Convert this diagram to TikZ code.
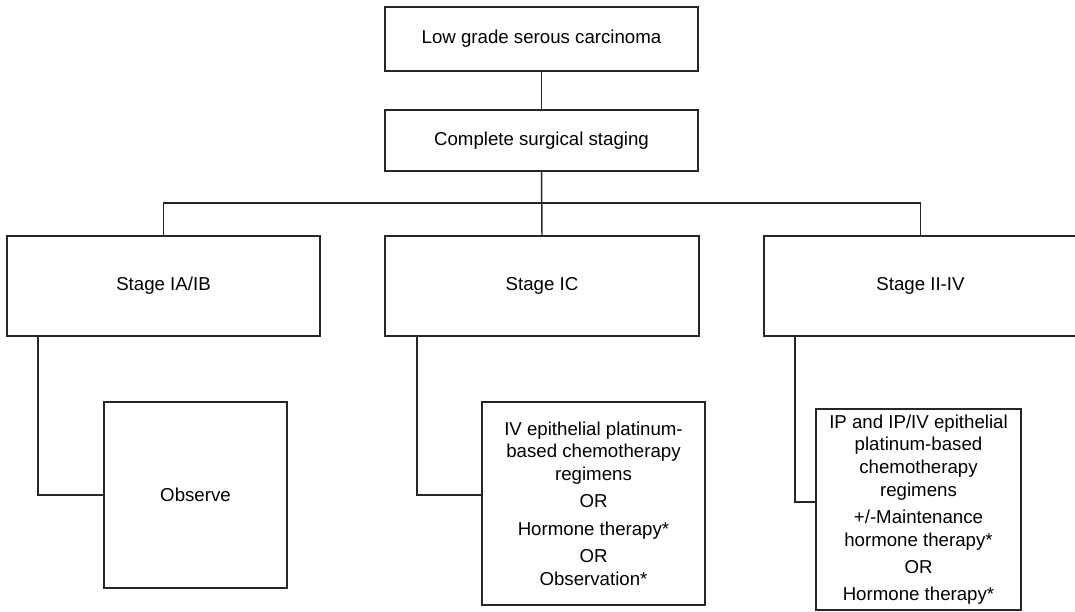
\documentclass[tikz,border=0pt]{standalone}
\usepackage{fontspec}
\setmainfont{Liberation Sans}
\begin{document}
\begin{tikzpicture}[x=0.75pt,y=-0.75pt,
  box/.style={draw=black!85, line width=1.1pt, inner sep=0pt, align=center,
    font=\fontsize{14}{17}\selectfont},
  conn/.style={draw=black!85, line width=1.1pt}]
\useasboundingbox (0,0) rectangle (1075,611);
\node[box, minimum width=313*0.75pt, minimum height=64*0.75pt] (top) at (541.5,39) {Low grade serous carcinoma};
\node[box, minimum width=313*0.75pt, minimum height=61*0.75pt] (csg) at (541.5,140.5) {Complete surgical staging};
\node[box, minimum width=313*0.75pt, minimum height=100*0.75pt] (s1) at (163.5,286) {Stage IA/IB};
\node[box, minimum width=314*0.75pt, minimum height=100*0.75pt] (s2) at (542,286) {Stage IC};
\node[box, minimum width=313*0.75pt, minimum height=100*0.75pt] (s3) at (920.5,286) {Stage II-IV};
\node[box, minimum width=183*0.75pt, minimum height=186*0.75pt] (obs) at (195.5,495) {Observe};
\node[box, minimum width=223*0.75pt, minimum height=203*0.75pt] (b2) at (593.5,503.5)
  {IV epithelial platinum-\\based chemotherapy\\regimens\\[3.5pt]OR\\[3.5pt]Hormone therapy*\\[3.5pt]OR\\Observation*};
\node[box, minimum width=205*0.75pt, minimum height=201*0.75pt] (b3) at (918.5,509.5)
  {IP and IP/IV epithelial\\platinum-based\\chemotherapy\\regimens\\[3.5pt]+/-Maintenance\\hormone therapy*\\[3.5pt]OR\\[3.5pt]Hormone therapy*};
\coordinate (bus) at (542,203);
\coordinate (c1) at (38,495);
\coordinate (c2) at (417,495);
\coordinate (c3) at (795,502);
\draw[conn] (top.south) -- (csg.north);
\draw[conn] (csg.south) -- (s2.north);
\draw[conn] (s1.north) |- (bus) -| (s3.north);
\draw[conn] (s1.south -| c1) |- (obs.west);
\draw[conn] (s2.south -| c2) -- (c2) -- (c2 -| b2.west);
\draw[conn] (s3.south -| c3) -- (c3) -- (c3 -| b3.west);
\end{tikzpicture}
\end{document}
